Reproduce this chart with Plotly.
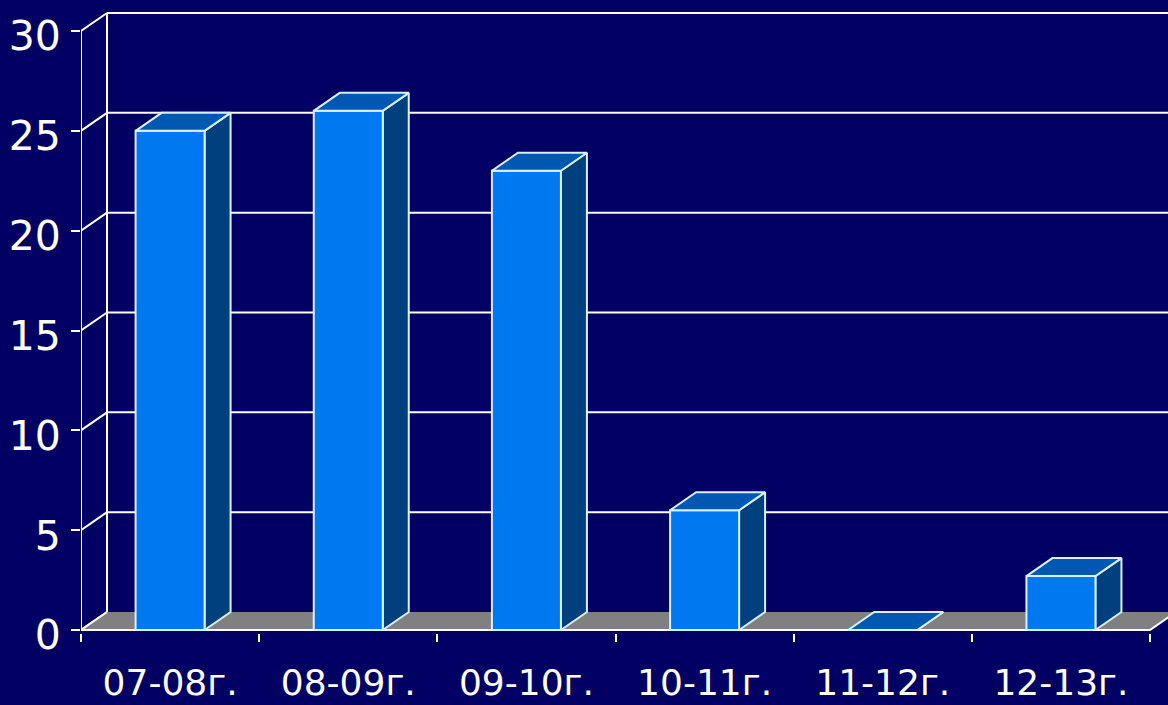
import plotly.graph_objects as go

# ---- data ----
categories = ["07-08г.", "08-09г.", "09-10г.", "10-11г.", "11-12г.", "12-13г."]
values = [25, 26, 23, 6, 0, 2.7]
y_ticks = [0, 5, 10, 15, 20, 25, 30]

# ---- style ----
BG = "#020063"
FRONT = "#0078F0"
SIDE = "#00407F"
TOP = "#0058B2"
FLOOR = "#808080"
EDGE = "#D8F0FF"
FONT = "DejaVu Sans"

W, H = 1168, 705
ml, mb = 81, 72
px_per_cat = 178.17
px_per_unit = 19.967
xmin = -0.5
xmax = xmin + (W - ml) / px_per_cat
ymin = -(H - mb - 630) / px_per_unit
ymax = 630 / px_per_unit
dx = 26 / px_per_cat          # depth offset, category units
dy = 18 / px_per_unit         # depth offset, value units
bw = 69 / px_per_cat          # bar width, category units
n = len(categories)

fig = go.Figure()

def line(xs, ys, color="white", width=2):
    fig.add_trace(go.Scatter(x=xs, y=ys, mode="lines",
                             line=dict(color=color, width=width),
                             hoverinfo="skip", showlegend=False))

def polys(list_of_pts, fillcolor, edge=EDGE, width=2):
    xs, ys = [], []
    for pts in list_of_pts:
        for (a, b) in pts + [pts[0]]:
            xs.append(a); ys.append(b)
        xs.append(None); ys.append(None)
    fig.add_trace(go.Scatter(x=xs, y=ys, mode="lines", fill="toself",
                             fillcolor=fillcolor,
                             line=dict(color=edge, width=width),
                             hoverinfo="skip", showlegend=False))

# back wall gridlines
for v in y_ticks:
    if v > 0:
        line([xmin + dx, xmax + 1], [v + dy, v + dy])
    line([xmin, xmin + dx], [v, v + dy])
# back wall vertical and front axis
line([xmin + dx, xmin + dx], [dy, y_ticks[-1] + dy])
line([xmin, xmin], [0, y_ticks[-1]])

# floor
right = xmin + n
fig.add_trace(go.Scatter(x=[xmin, right, right + dx, xmin + dx, xmin],
                         y=[0, 0, dy, dy, 0], mode="lines", fill="toself",
                         fillcolor=FLOOR, line=dict(width=0),
                         hoverinfo="skip", showlegend=False))
line([xmin, right, right + dx], [0, 0, dy])
line([xmin, xmin + dx], [0, dy])

# bars
fronts, sides, tops = [], [], []
for i, v in enumerate(values):
    l, r = i - bw / 2, i + bw / 2
    fronts.append([(l, 0), (r, 0), (r, v), (l, v)])
    sides.append([(r, 0), (r + dx, dy), (r + dx, v + dy), (r, v)])
    tops.append([(l, v), (l + dx, v + dy), (r + dx, v + dy), (r, v)])
polys(sides, SIDE)
polys(fronts, FRONT)
polys(tops, TOP)

# invisible trace for secondary x axis (category boundary ticks)
fig.add_trace(go.Scatter(x=[xmin], y=[0], xaxis="x2", mode="markers",
                         marker=dict(opacity=0), hoverinfo="skip",
                         showlegend=False))

fig.update_layout(
    width=W, height=H,
    margin=dict(l=ml, r=0, t=0, b=mb),
    paper_bgcolor=BG, plot_bgcolor=BG,
    showlegend=False, hovermode=False,
    xaxis=dict(range=[xmin, xmax], tickvals=list(range(n)),
               ticktext=categories, ticks="", showgrid=False,
               zeroline=False, showline=False,
               tickfont=dict(family=FONT, size=36, color="white"),
               ticklabelstandoff=25),
    xaxis2=dict(range=[xmin, xmax], overlaying="x", anchor="y", side="bottom",
                tickvals=[k - 0.5 for k in range(n + 1)], ticks="outside",
                ticklen=8, tickwidth=2, tickcolor="white",
                showticklabels=False, showgrid=False, zeroline=False,
                showline=False),
    yaxis=dict(range=[ymin, ymax], tickvals=y_ticks, ticks="outside",
               ticklen=9, tickwidth=2, tickcolor="white", showgrid=False,
               zeroline=False, showline=False,
               tickfont=dict(family=FONT, size=41, color="white"),
               ticklabelstandoff=2, ticklabelshift=5),
)

fig.write_html(
    "out.html",
    config={"displayModeBar": False},
    post_script="document.body.style.margin='0';"
                "document.body.style.background='" + BG + "';",
)
